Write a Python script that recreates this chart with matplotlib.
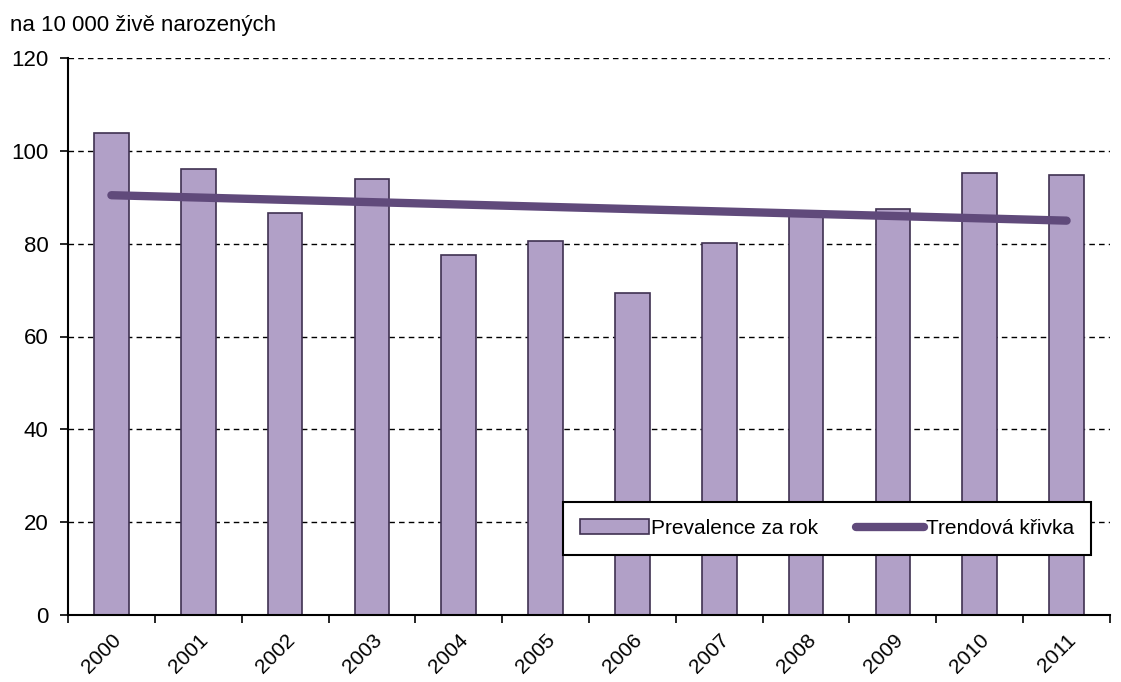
import numpy as np
import matplotlib.pyplot as plt

plt.rcParams['font.family'] = ['Liberation Sans', 'DejaVu Sans']

years = ['2000', '2001', '2002', '2003', '2004', '2005',
         '2006', '2007', '2008', '2009', '2010', '2011']
prevalence = [103.9, 96.1, 86.6, 94.0, 77.6, 80.6,
              69.4, 80.2, 86.4, 87.5, 95.3, 94.8]

x = np.arange(len(years))
# linear trend through the yearly values
slope, intercept = np.polyfit(x, prevalence, 1)
trend = slope * x + intercept

fig = plt.figure(figsize=(11.21, 6.82), dpi=100)
ax = fig.add_axes([68 / 1121, 1 - 615 / 682, (1110 - 68) / 1121, (615 - 58) / 682])

bars = ax.bar(x, prevalence, width=0.4, color='#B1A0C7', edgecolor='#3F3151',
              linewidth=1.2, label='Prevalence za rok', zorder=2)
line, = ax.plot(x, trend, color='#604A7B', linewidth=6, solid_capstyle='round',
                label='Trendová křivka', zorder=3)

ax.set_xlim(-0.5, len(years) - 0.5)
ax.set_ylim(0, 120)
ax.set_yticks(range(0, 121, 20))
ax.set_xticks(x)
ax.set_xticklabels(years, rotation=45, ha='right', rotation_mode='anchor')
ax.set_xticks(np.arange(-0.5, len(years), 1), minor=True)
ax.tick_params(axis='x', which='major', length=0, pad=11, labelsize=15)
ax.tick_params(axis='x', which='minor', length=6, width=1.2, direction='out')
ax.tick_params(axis='y', length=6, width=1.2, direction='out', labelsize=16, pad=8)

ax.grid(axis='y', color='black', linestyle=(0, (4, 3)), linewidth=1, zorder=0)
ax.set_axisbelow(True)
for s in ['top', 'right']:
    ax.spines[s].set_visible(False)
for s in ['left', 'bottom']:
    ax.spines[s].set_linewidth(1.5)

fig.text(10 / 1121, 1 - 26 / 682, 'na 10 000 živě narozených', fontsize=16,
         va='center', ha='left')

leg = ax.legend([bars, line], ['Prevalence za rok', 'Trendová křivka'],
                loc='upper left', bbox_to_anchor=((553 - 68) / 1042, (615 - 492) / 557),
                ncol=2, fontsize=15, frameon=True, fancybox=False, framealpha=1,
                facecolor='white', edgecolor='black', handlelength=3.3,
                handletextpad=0.1, columnspacing=1.8, borderpad=0.8)
leg.get_frame().set_linewidth(1.5)

fig.savefig('out.png', dpi=100)
